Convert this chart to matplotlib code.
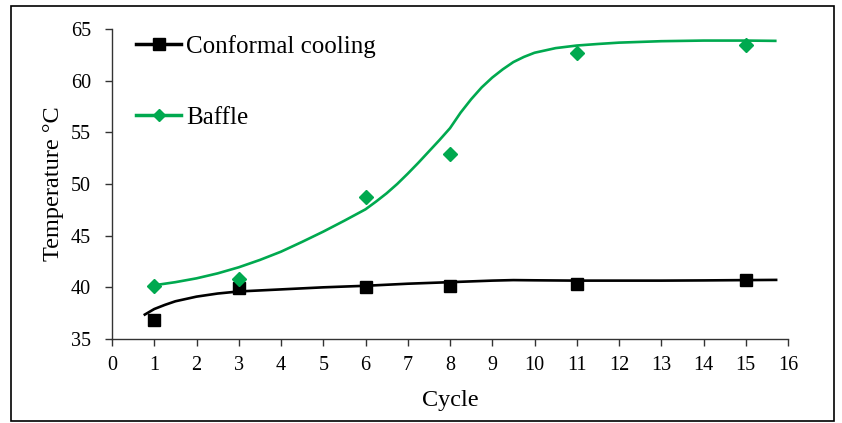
import matplotlib
matplotlib.use("Agg")
import matplotlib.pyplot as plt
from matplotlib.lines import Line2D
from matplotlib.patches import Rectangle

plt.rcParams['font.family'] = ['Liberation Serif', 'DejaVu Serif']

# Measured data points
cycles = [1, 3, 6, 8, 11, 15]
conformal = [36.8, 39.9, 40.05, 40.1, 40.35, 40.7]
baffle = [40.1, 40.8, 48.7, 52.9, 62.65, 63.5]

# Smooth trend curves
conf_curve_x = [0.75, 1.0, 1.25, 1.5, 2.0, 2.5, 3.0, 4.0, 5.0, 6.0, 7.0, 8.0, 9.0, 9.5, 10.0, 11.0, 12.0, 13.0, 14.0, 15.0, 15.75]
conf_curve_y = [37.3, 37.9, 38.3, 38.65, 39.1, 39.4, 39.6, 39.8, 40.0, 40.15, 40.35, 40.5, 40.65, 40.7, 40.68, 40.65, 40.65, 40.65, 40.67, 40.7, 40.72]

baffle_curve_x = [1.0, 1.5, 2.0, 2.5, 3.0, 3.5, 4.0, 4.5, 5.0, 5.5, 6.0, 6.25, 6.5, 6.75, 7.0, 7.25, 7.5, 7.75, 8.0, 8.25, 8.5, 8.75, 9.0, 9.25, 9.5, 9.75, 10.0, 10.5, 11.0, 11.5, 12.0, 13.0, 14.0, 15.0, 15.73]
baffle_curve_y = [40.2, 40.5, 40.87, 41.35, 41.94, 42.65, 43.45, 44.4, 45.39, 46.45, 47.55, 48.3, 49.1, 50.0, 51.0, 52.05, 53.15, 54.25, 55.4, 56.9, 58.2, 59.35, 60.3, 61.1, 61.8, 62.3, 62.7, 63.15, 63.4, 63.55, 63.68, 63.82, 63.88, 63.88, 63.85]

xticks = list(range(0, 17))
yticks = [35, 40, 45, 50, 55, 60, 65]

black = '#000000'
green = '#00A94F'

fig = plt.figure(figsize=(8.42, 4.23), dpi=100)
ax = fig.add_axes([112/842, 1-339/423, (788-112)/842, (339-29)/423])

ax.plot(conf_curve_x, conf_curve_y, color=black, lw=1.9, solid_capstyle='butt', solid_joinstyle='round')
ax.plot(baffle_curve_x, baffle_curve_y, color=green, lw=1.9, solid_capstyle='butt', solid_joinstyle='round')
ax.plot(cycles, conformal, linestyle='none', marker='s', ms=8.5, color=black)
ax.plot(cycles, baffle, linestyle='none', marker='D', ms=7.5, color=green)

ax.set_xlim(0, 16)
ax.set_ylim(35, 65)
ax.set_xticks(xticks)
ax.set_yticks(yticks)
ax.tick_params(axis='both', direction='out', length=5, width=1, labelsize=14.5, color='#333333')
ax.tick_params(axis='y', pad=10)
ax.tick_params(axis='x', pad=7)
for s in ['top', 'right']:
    ax.spines[s].set_visible(False)
for s in ['left', 'bottom']:
    ax.spines[s].set_linewidth(1)
    ax.spines[s].set_color('#333333')

ax.set_xlabel('Cycle', fontsize=17.5, labelpad=11)
ax.set_ylabel('Temperature °C', fontsize=17.5, labelpad=5)

handles = [
    Line2D([], [], color=black, lw=2.5, marker='s', ms=8),
    Line2D([], [], color=green, lw=2.5, marker='D', ms=6.5),
]
ax.legend(handles, ['Conformal cooling', 'Baffle'], loc='upper left',
          bbox_to_anchor=(24/676, 0.982), frameon=False, fontsize=18,
          handlelength=1.8, handletextpad=0.2, labelspacing=1.95,
          borderaxespad=0, borderpad=0)

fig.patches.append(Rectangle((11/842, 1-421/423), (834-11)/842, (421-6)/423,
                             transform=fig.transFigure, fill=False, edgecolor='black', lw=1.2))

fig.savefig('out.png', dpi=100)
